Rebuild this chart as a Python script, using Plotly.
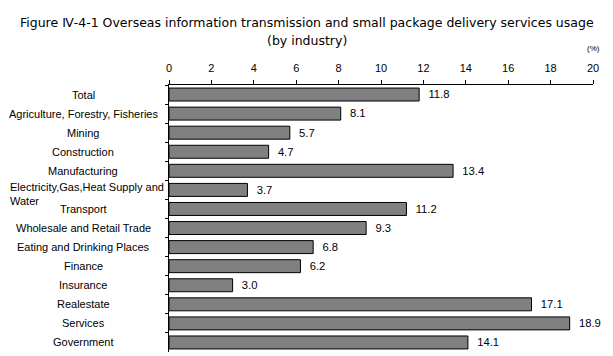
import plotly.graph_objects as go

categories = ["Total", "Agriculture, Forestry, Fisheries", "Mining", "Construction",
              "Manufacturing", "Electricity,Gas,Heat Supply and<br>Water", "Transport",
              "Wholesale and Retail Trade", "Eating and Drinking Places", "Finance",
              "Insurance", "Realestate", "Services", "Government"]
values = [11.8, 8.1, 5.7, 4.7, 13.4, 3.7, 11.2, 9.3, 6.8, 6.2, 3.0, 17.1, 18.9, 14.1]
x_ticks = [0, 2, 4, 6, 8, 10, 12, 14, 16, 18, 20]

FONT = "Liberation Sans, Arial, sans-serif"
TFONT = "DejaVu Sans, sans-serif"

W, H = 605, 348
L, R, T, B = 161, 20, 77, 4
pw = W - L - R
ph = H - T - B


def py(Y):
    return (H - B - Y) / ph


def px(X):
    return (X - L) / pw


fig = go.Figure()
fig.add_trace(go.Bar(
    y=categories, x=values, orientation="h",
    marker=dict(color="#808080", line=dict(color="black", width=1)),
    text=["  %.1f" % v for v in values], textposition="outside",
    textfont=dict(family=FONT, size=13, color="black"),
    cliponaxis=False, width=0.68,
))

annotations = []
for c in categories:
    if "Water" in c:
        annotations.append(dict(
            x=px(0), xref="paper", y=c, yref="y", text=c, showarrow=False,
            xanchor="left", yanchor="middle", align="left", yshift=-4,
            font=dict(family=FONT, size=11, color="black"),
        ))
    else:
        annotations.append(dict(
            x=px(75), xref="paper", y=c, yref="y", text=c, showarrow=False,
            xanchor="center", yanchor="middle", align="center",
            font=dict(family=FONT, size=11, color="black"),
        ))
annotations.append(dict(
    x=1.0, xref="paper", xanchor="center", y=py(41), yref="paper", yanchor="middle",
    text="(%)", showarrow=False, font=dict(family=FONT, size=8, color="black"),
))
annotations.append(dict(
    x=px(299), xref="paper", xanchor="center", y=py(14), yref="paper",
    yanchor="middle",
    text="Figure Ⅳ-4-1 Overseas information transmission and small package delivery services usage",
    showarrow=False, font=dict(family=TFONT, size=12.5, color="black"),
))
annotations.append(dict(
    x=px(299), xref="paper", xanchor="center", y=py(32), yref="paper",
    yanchor="middle", text="(by industry)",
    showarrow=False, font=dict(family=TFONT, size=12.5, color="black"),
))

fig.update_layout(
    width=W, height=H,
    margin=dict(l=L, r=R, t=T, b=B, autoexpand=False),
    paper_bgcolor="white", plot_bgcolor="white",
    showlegend=False,
    xaxis=dict(
        side="top", range=[0, 20], tickvals=x_ticks, ticktext=[str(t) for t in x_ticks],
        showgrid=False, zeroline=False, showline=True, linecolor="black", linewidth=1,
        ticks="outside", ticklen=4, tickcolor="black", ticklabelstandoff=4,
        tickfont=dict(family=FONT, size=11, color="black"),
    ),
    yaxis=dict(
        autorange="reversed", showticklabels=False, showgrid=False, zeroline=False,
        showline=True, linecolor="black", linewidth=1,
        ticks="outside", ticklen=3, tickcolor="black", tickson="boundaries",
    ),
    annotations=annotations,
)

fig.write_html("out.html")
